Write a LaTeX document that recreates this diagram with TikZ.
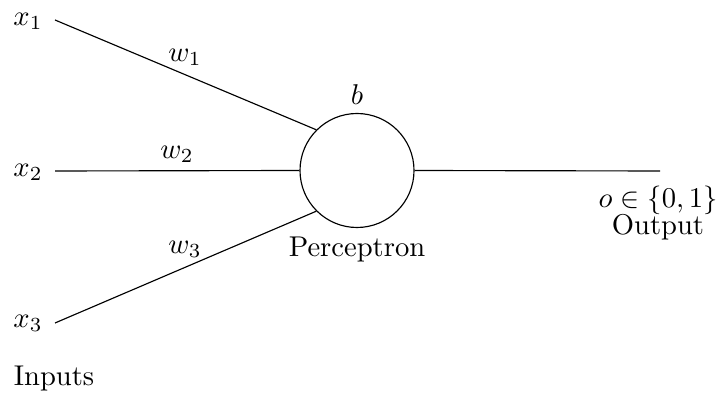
\documentclass[tikz,border=0pt]{standalone}
\begin{document}
\begin{tikzpicture}[x=0.3497pt,y=-0.3497pt,
  lbl/.style={inner sep=0pt},
  neuron/.style={draw,circle,inner sep=0pt,minimum size=114*0.3497pt},
  conn/.style={draw,line width=0.4pt}]
\useasboundingbox (0,0) rectangle (720,396);
\node[lbl] (x1) at (28,21) {$x_1$};
\node[lbl] (x2) at (28,172) {$x_2$};
\node[lbl] (x3) at (28,323) {$x_3$};
\coordinate (s1) at (55,20);
\coordinate (s2) at (55,171);
\coordinate (s3) at (55,323);
\node[neuron] (p) at (357,170.5) {};
\coordinate (out) at (660,171);
\draw[conn] (s1) -- (p.135);
\draw[conn] (s2) -- (p.west);
\draw[conn] (s3) -- (p.225);
\draw[conn] (p.east) -- (out);
\node[lbl] (w1) at (185,57) {$w_1$};
\node[lbl] (w2) at (177,154) {$w_2$};
\node[lbl] (w3) at (185,249) {$w_3$};
\node[lbl] (b) at (357,95) {$b$};
\node[lbl] (pl) at (357,250) {Perceptron};
\node[lbl] (o) at (658,200) {$o\in\{0,1\}$};
\node[lbl] (ol) at (658,227) {Output};
\node[lbl] (in) at (54,379) {Inputs};
\end{tikzpicture}
\end{document}
